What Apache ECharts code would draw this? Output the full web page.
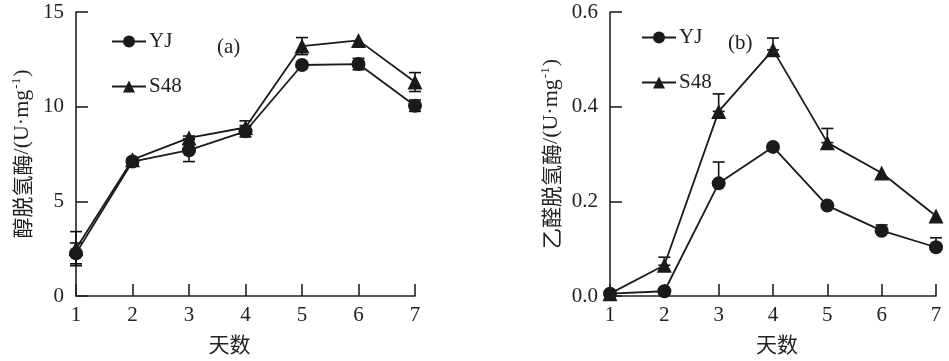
<!DOCTYPE html>
<html>
<head>
<meta charset="utf-8">
<script src="https://cdn.jsdelivr.net/npm/echarts@6/dist/echarts.min.js"></script>
<style>html,body{margin:0;padding:0;background:#fff}#c{width:949px;height:361px}</style>
</head>
<body>
<div id="c"></div>
<script>
// Days
var days = [1, 2, 3, 4, 5, 6, 7];
// (a) 醇脱氢酶
var adhYJ = [2.25, 7.1, 7.7, 8.7, 12.2, 12.25, 10.05];
var adhYJErr = [0.55, 0.1, 0.6, 0.3, 0.0, 0.3, 0.3];
var adhS48 = [2.5, 7.2, 8.35, 8.9, 13.2, 13.5, 11.3];
var adhS48Err = [0.9, 0.1, 0.1, 0.35, 0.45, 0.0, 0.5];
// (b) 乙醛脱氢酶 (upper error bars only)
var aldhYJ = [0.005, 0.01, 0.238, 0.315, 0.191, 0.138, 0.103];
var aldhYJErr = [0.0, 0.0, 0.045, 0.0, 0.0, 0.012, 0.02];
var aldhS48 = [0.005, 0.065, 0.39, 0.52, 0.324, 0.26, 0.169];
var aldhS48Err = [0.0, 0.017, 0.037, 0.025, 0.03, 0.0, 0.0];
// tick labels
var yTicksA = [0, 5, 10, 15];
var yTicksB = [0, 0.2, 0.4, 0.6];

var FONT = '"Liberation Serif","Times New Roman",serif';
var CJK = '"Noto Sans CJK SC","Liberation Serif",serif';

function pairs(vals) { return days.map(function (d, i) { return [d, vals[i]]; }); }
function errData(vals, up, down) {
  return days.map(function (d, i) { return [d, vals[i] - down[i], vals[i] + up[i]]; })
    .filter(function (r, i) { return up[i] > 0 || down[i] > 0; });
}
var zeros = days.map(function () { return 0; });

function errRender(params, api) {
  var x = api.value(0), lo = api.value(1), hi = api.value(2);
  var pLo = api.coord([x, lo]), pHi = api.coord([x, hi]);
  var w = 6;
  var st = { stroke: '#111', lineWidth: 1.6 };
  return {
    type: 'group',
    children: [
      { type: 'line', shape: { x1: pLo[0], y1: pLo[1], x2: pHi[0], y2: pHi[1] }, style: st },
      { type: 'line', shape: { x1: pHi[0] - w, y1: pHi[1], x2: pHi[0] + w, y2: pHi[1] }, style: st },
      { type: 'line', shape: { x1: pLo[0] - w, y1: pLo[1], x2: pLo[0] + w, y2: pLo[1] }, style: st }
    ]
  };
}

function xAxisCfg(idx, pad) {
  return {
    type: 'value', gridIndex: idx, min: 1, max: 7, interval: 1,
    name: '天数', nameLocation: 'middle', nameGap: 38,
    nameTextStyle: { fontFamily: CJK, fontSize: 21, color: '#222', padding: pad },
    axisLine: { lineStyle: { color: '#222', width: 1.6 } },
    axisTick: { inside: true, length: 12, lineStyle: { color: '#222', width: 1.6 } },
    axisLabel: { fontFamily: FONT, fontSize: 21, color: '#222', margin: 9 },
    splitLine: { show: false }
  };
}
function yAxisCfg(idx, max, interval, name, gap, dec) {
  return {
    type: 'value', gridIndex: idx, min: 0, max: max, interval: interval,
    name: name, nameLocation: 'middle', nameGap: gap, nameRotate: 90,
    nameTextStyle: {
      fontFamily: CJK, fontSize: 21, color: '#222',
      rich: {
        c: { fontFamily: CJK, fontSize: 21, color: '#222' },
        l: { fontFamily: FONT, fontSize: 22, color: '#222' },
        sup: { fontFamily: FONT, fontSize: 13, color: '#222', verticalAlign: 'bottom', padding: [0, 1, 11, 1] }
      }
    },
    axisLine: { show: true, lineStyle: { color: '#222', width: 1.6 } },
    axisTick: { show: true, inside: true, length: 12, lineStyle: { color: '#222', width: 1.6 } },
    axisLabel: { fontFamily: FONT, fontSize: 21, color: '#222', margin: 12,
      formatter: function (v) { return dec ? v.toFixed(1) : String(v); } },
    splitLine: { show: false }
  };
}
function lineSeries(name, data, symbol, size, xi) {
  return {
    type: 'line', name: name, data: pairs(data), xAxisIndex: xi, yAxisIndex: xi,
    symbol: symbol, symbolSize: size, showAllSymbol: true, z: 5,
    itemStyle: { color: '#1a1a1a' },
    lineStyle: { color: '#1a1a1a', width: 1.8 },
    emphasis: { disabled: true }, animation: false
  };
}
function errSeries(vals, up, down, xi) {
  return {
    type: 'custom', xAxisIndex: xi, yAxisIndex: xi, z: 3,
    renderItem: errRender, data: errData(vals, up, down), animation: false, silent: true
  };
}
function legendCfg(left, top) {
  return {
    data: ['YJ', 'S48'],
    orient: 'vertical', left: left, top: top, itemWidth: 34, itemHeight: 15, itemGap: 24,
    textStyle: { fontFamily: FONT, fontSize: 21, color: '#222', padding: [0, 0, 0, -2] },
    selectedMode: false
  };
}

var chart = echarts.init(document.getElementById('c'), null, { renderer: 'canvas' });
chart.setOption({
  backgroundColor: '#fff',
  animation: false,
  grid: [
    { left: 76, top: 12, width: 339, height: 284 },
    { left: 610, top: 12, width: 326, height: 284 }
  ],
  xAxis: [xAxisCfg(0, [0, 32, 0, 0]), xAxisCfg(1, [0, 0, 0, 8])],
  yAxis: [
    yAxisCfg(0, yTicksA[3], yTicksA[1], '{c|醇脱氢酶}{l|/(U·mg}{sup|-1}{l|)}', 42, false),
    yAxisCfg(1, yTicksB[3], yTicksB[1], '{c|乙醛脱氢酶}{l|/(U·mg}{sup|-1}{l|)}', 47, true)
  ],
  legend: [legendCfg(106, 26), legendCfg(636, 22)],
  series: [
    errSeries(adhYJ, adhYJErr, adhYJErr, 0),
    errSeries(adhS48, adhS48Err, adhS48Err, 0),
    lineSeries('YJ', adhYJ, 'circle', 14, 0),
    lineSeries('S48', adhS48, 'triangle', 15, 0),
    errSeries(aldhYJ, aldhYJErr, zeros, 1),
    errSeries(aldhS48, aldhS48Err, zeros, 1),
    lineSeries('YJ', aldhYJ, 'circle', 14, 1),
    lineSeries('S48', aldhS48, 'triangle', 15, 1)
  ],
  graphic: [
    { type: 'text', left: 217, top: 37, style: { text: '(a)', font: '21px ' + FONT, fill: '#222' } },
    { type: 'text', left: 728, top: 33, style: { text: '(b)', font: '21px ' + FONT, fill: '#222' } }
  ]
});
</script>
</body>
</html>
